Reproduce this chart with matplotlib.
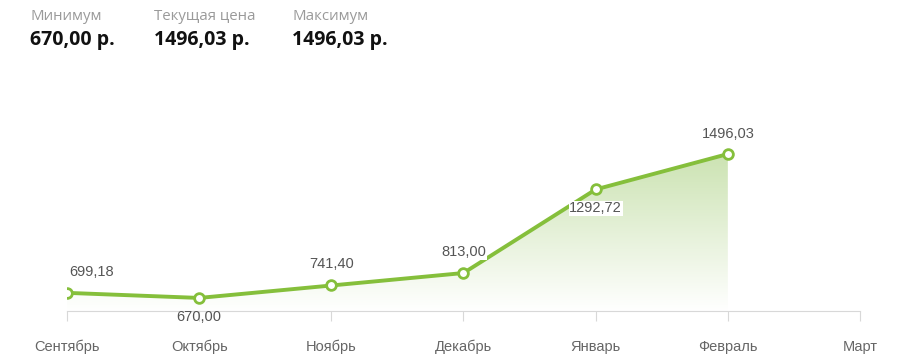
import numpy as np
import matplotlib.pyplot as plt
from matplotlib.patches import Polygon

months = ["Сентябрь", "Октябрь", "Ноябрь", "Декабрь", "Январь", "Февраль", "Март"]
prices = [699.18, 670.00, 741.40, 813.00, 1292.72, 1496.03]
price_labels = ["699,18", "670,00", "741,40", "813,00", "1292,72", "1496,03"]
# where each label sits: above / below the point (pixel offsets)
label_dx = [25, 0, 0, 0, 0, 0]
label_dy = [21, -19, 21, 21, -19, 20]

stats_titles = ["Минимум", "Текущая цена", "Максимум"]
stats_values = ["670,00 р.", "1496,03 р.", "1496,03 р."]

green = "#85bf3b"
W, H = 901, 362

fig = plt.figure(figsize=(W / 100, H / 100), dpi=100)

# header block
stats_x = [30, 154, 292]
for x, t, v in zip(stats_x, stats_titles, stats_values):
    fig.text(x / W, 1 - 17 / H, t, family="Open Sans", fontsize=10.8, color="#9a9a9a", va="center")
    fig.text(x / W, 1 - 40 / H, v, family="Open Sans", fontsize=14, weight="bold", color="#111111", va="center")

# plot area: x 67..860 px, baseline at y=311 px
ax = fig.add_axes([67 / W, (H - 311) / H, (860 - 67) / W, 211 / H])

x = np.arange(len(prices))

# gradient fill under the line
poly = Polygon(np.column_stack([np.r_[x, x[-1], x[0]], np.r_[prices, 595, 595]]),
               closed=True, facecolor="none", edgecolor="none")
ax.add_patch(poly)
grad = np.linspace(0, 1, 256).reshape(-1, 1)
top = np.array([0.80, 0.89, 0.70])
cols = np.ones((256, 1, 3)) * (1 - grad[..., None]) + top * grad[..., None]
im = ax.imshow(cols, extent=[0, len(prices) - 1, 595, max(prices)], origin="lower",
               aspect="auto", zorder=1)
im.set_clip_path(poly)
ax.set_xlim(0, len(months) - 1)
ax.set_ylim(595, 1806)

ax.plot(x, prices, color=green, lw=2.8, zorder=3, solid_capstyle="round")
ax.plot(x, prices, "o", ms=7, mfc="white", mec=green, mew=2, zorder=4)

for i, (p, lab) in enumerate(zip(prices, price_labels)):
    bbox = None
    if i in (3, 4):
        bbox = dict(boxstyle="square,pad=0.05", fc="white", ec="none")
    ax.annotate(lab, (i, p), xytext=(label_dx[i], label_dy[i]), textcoords="offset pixels",
                ha="center", va="center", fontsize=10.5, family="Liberation Sans",
                color="#555555", zorder=5, bbox=bbox)

for s in ["top", "right", "left"]:
    ax.spines[s].set_visible(False)
ax.spines["bottom"].set_color("#d8d8d8")
ax.set_yticks([])
ax.set_xticks(np.arange(len(months)))
ax.set_xticklabels(months, family="Liberation Sans", fontsize=10.5, color="#666666")
ax.tick_params(axis="x", length=7.5, color="#d8d8d8", pad=21)
for lbl in ax.get_xticklabels():
    lbl.set_va("baseline")

fig.savefig("out.png", dpi=100)
